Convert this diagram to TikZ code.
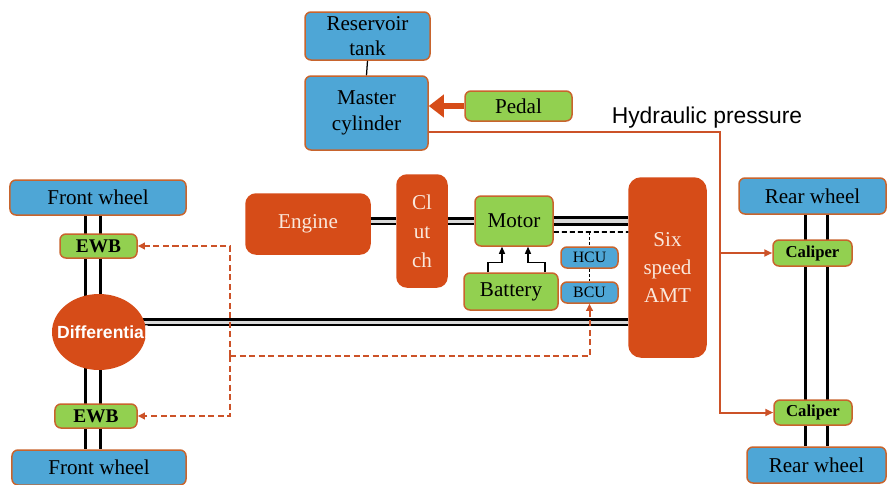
\documentclass[tikz,border=0pt]{standalone}
\usepackage{fontspec}
\setmainfont{Liberation Serif}
\newfontfamily\arialfont{Liberation Sans}
\usetikzlibrary{arrows.meta,shapes.geometric,backgrounds}

\definecolor{partblue}{RGB}{78,166,214}
\definecolor{partgreen}{RGB}{146,208,80}
\definecolor{partred}{RGB}{214,76,24}
\definecolor{edge}{RGB}{200,100,45}
\definecolor{hydred}{RGB}{204,82,40}
\definecolor{lighttext}{RGB}{250,232,220}

\tikzset{
  box/.style={draw=edge, line width=0.3mm, rounded corners=1.2mm, align=center,
    inner sep=0pt, font=\fontsize{12}{14}\selectfont},
  bluebox/.style={box, fill=partblue},
  greenbox/.style={box, fill=partgreen},
  redbox/.style={box, fill=partred, draw=partred, text=lighttext},
  smallbox/.style={font=\fontsize{11}{12}\selectfont\bfseries},
  shaft/.style={draw=black, line width=0.45mm, double=black!15, double distance=0.6mm},
  axle/.style={black, line width=0.6mm},
  ctrl/.style={hydred, line width=0.4mm, dash pattern=on 1.2mm off 0.7mm, -{Triangle[length=1.4mm,width=1.3mm]}},
  hyd/.style={hydred, line width=0.4mm, -{Triangle[length=1.6mm,width=1.4mm]}},
  sig/.style={black, line width=0.35mm, dash pattern=on 1mm off 0.6mm},
  batt/.style={black, line width=0.25mm, -{Triangle[length=1.4mm,width=1.2mm]}},
}

\begin{document}
\begin{tikzpicture}[x=0.2mm, y=-0.2mm]
\useasboundingbox (0,0) rectangle (890,484);
%
% brake fluid side
\node[bluebox, minimum width=25mm, minimum height=9.6mm] (res) at (367.5,36) {Reservoir\\tank};
\node[bluebox, minimum width=24.6mm, minimum height=14.8mm] (mc) at (366.5,113) {Master\\[1pt]cylinder};
\node[greenbox, minimum width=21.4mm, minimum height=6mm] (pedal) at (518.5,106) {Pedal};
\node[font=\arialfont\fontsize{13}{14}\selectfont] (hydlabel) at (707,118) {Hydraulic pressure};
%
% front axle
\node[bluebox, minimum width=35.2mm, minimum height=7mm] (fwt) at (98,197.5) {Front wheel};
\node[bluebox, minimum width=34.8mm, minimum height=7mm] (fwb) at (99,467.5) {Front wheel};
\node[greenbox, smallbox, minimum width=15.4mm, minimum height=4.8mm] (ewbt) at (98.5,246) {EWB};
\node[greenbox, smallbox, minimum width=16.4mm, minimum height=4.8mm] (ewbb) at (96,416) {EWB};
\node[ellipse, fill=partred, inner sep=0pt, minimum width=18.8mm, minimum height=15.2mm,
  text=white, font=\arialfont\fontsize{10}{12}\selectfont\bfseries] (diff) at (99,332)
  {\makebox[0pt]{\hspace*{1.6mm}Differential}};
%
% power train
\node[redbox, rounded corners=2mm, minimum width=24.8mm, minimum height=12mm] (engine) at (308,224) {Engine};
\node[redbox, rounded corners=2mm, minimum width=10mm, minimum height=22.4mm,
  font=\fontsize{12}{16.5}\selectfont] (clutch) at (422,231) {Cl\\ut\\ch};
\node[greenbox, minimum width=15.6mm, minimum height=10mm] (motor) at (514,221) {Motor};
\node[greenbox, minimum width=18.8mm, minimum height=7.4mm] (battery) at (511,291.5) {Battery};
\node[bluebox, minimum width=11.4mm, minimum height=4.2mm, font=\fontsize{9}{10}\selectfont] (hcu) at (589.5,257.5) {HCU};
\node[bluebox, minimum width=11.4mm, minimum height=4.2mm, font=\fontsize{9}{10}\selectfont] (bcu) at (589.5,292.5) {BCU};
\node[redbox, rounded corners=2.4mm, minimum width=15.4mm, minimum height=35.8mm,
  font=\fontsize{12}{16}\selectfont] (amt) at (667.5,267.5) {Six\\speed\\AMT};
%
% rear axle
\node[bluebox, minimum width=29.4mm, minimum height=7.2mm] (rwt) at (812.5,196) {Rear wheel};
\node[bluebox, minimum width=27.8mm, minimum height=7.2mm] (rwb) at (816.5,465) {Rear wheel};
\node[greenbox, smallbox, font=\fontsize{9.5}{11}\selectfont\bfseries, minimum width=15.8mm, minimum height=5.2mm] (calt) at (812.5,253) {Caliper};
\node[greenbox, smallbox, font=\fontsize{9.5}{11}\selectfont\bfseries, minimum width=15.6mm, minimum height=5mm] (calb) at (813,412.5) {Caliper};
%
\coordinate (hbend) at (720,132);
\coordinate (sjoin) at (589.5,232);
\coordinate (cjoin) at (230,356);
\coordinate (dshaft) at ([yshift=2mm]diff.center);
%
\begin{scope}[on background layer]
	\draw[axle] ([xshift=-2.6mm]fwt.south) -- ([xshift=-2.6mm]fwt.south |- fwb.north);
	\draw[axle] ([xshift=0.4mm]fwt.south) -- ([xshift=0.4mm]fwt.south |- fwb.north);
	\draw[axle] ([xshift=-1.5mm]rwt.south) -- ([xshift=-1.5mm]rwt.south |- rwb.north);
	\draw[axle] ([xshift=2.9mm]rwt.south) -- ([xshift=2.9mm]rwt.south |- rwb.north);
	\draw[shaft] (dshaft) -- (dshaft -| amt.west);
\end{scope}
%
\draw[black, line width=0.25mm] (res.south) -- (mc.north);
\draw[partred, line width=1.2mm, -{Triangle[length=3mm,width=4.4mm]}] (pedal.west) -- (pedal.west -| mc.east);
%
\draw[shaft] (engine.east |- motor.west) -- (clutch.west |- motor.west);
\draw[shaft] (clutch.east |- motor.west) -- (motor.west);
\draw[shaft, line width=0.6mm, double distance=0.7mm] (motor.east) -- (motor.east -| amt.west);
%
\draw[sig] ([yshift=-2.2mm]motor.east) -- (sjoin -| amt.west);
\draw[black, line width=0.2mm, dash pattern=on 0.6mm off 0.4mm] (sjoin) -- (hcu.north);
\draw[black, line width=0.2mm, dash pattern=on 0.6mm off 0.4mm] (hcu.south) -- (bcu.north);
%
\draw[batt] ([xshift=-4.6mm]battery.north) -- ++(0,-10) -| ([xshift=-2.4mm]motor.south);
\draw[batt] ([xshift=6.8mm]battery.north) -- ++(0,-10) -| ([xshift=2.8mm]motor.south);
%
\draw[ctrl] (cjoin) -| (bcu.south);
\draw[ctrl] (cjoin) |- (ewbt.east);
\draw[ctrl] (cjoin) |- (ewbb.east);
%
\draw[hyd] (mc.east |- hbend) -- (hbend) |- (calb.west);
\draw[hyd] (hbend |- calt.west) -- (calt.west);
\end{tikzpicture}
\end{document}
